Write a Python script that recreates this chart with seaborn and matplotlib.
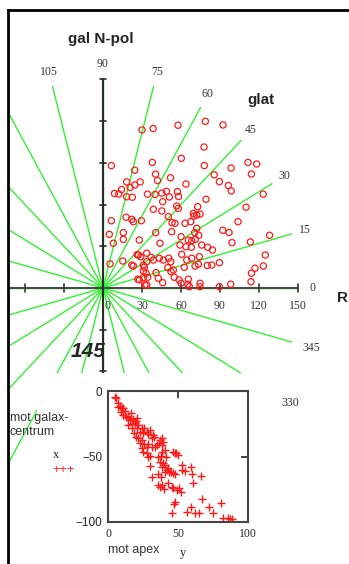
import numpy as np
import matplotlib
matplotlib.use("Agg")
import matplotlib.pyplot as plt
from matplotlib.patches import Rectangle
import seaborn as sns

# polar chart: stars in (R, glat) shown as x = R cos(glat), y = R sin(glat)
gx = [30.0, 38.5, 57.7, 78.7, 92.3, 6.4, 37.9, 60.2, 77.7, 24.4, 40.4, 41.9, 51.9, 63.8, 77.9,
      98.5, 111.5, 118.2, 114.1, 85.5, 89.5, 96.4, 98.6, 123.2, 79.2, 18.2, 20.8, 24.4, 28.6, 8.8,
      12.1, 14.2, 34.2, 40.0, 45.2, 48.8, 51.0, 58.1, 18.1, 22.5, 57.2, 45.9, 56.7, 57.9, 38.7,
      45.2, 72.8, 69.5, 6.4, 17.7, 22.1, 23.3, 29.5, 50.2, 53.1, 55.4, 63.1, 67.5, 72.1, 70.5,
      73.6, 7.9, 4.8, 15.6, 15.6, 27.9, 40.5, 43.8, 52.8, 60.0, 65.6, 59.2, 63.8, 67.9, 33.6,
      26.2, 29.0, 36.9, 38.7, 43.3, 46.4, 50.5, 52.1, 60.5, 64.4, 68.2, 74.1, 5.4, 15.2, 23.3,
      31.8, 33.6, 49.8, 54.1, 62.5, 70.8, 31.0, 33.1, 40.8, 42.5, 52.3, 54.8, 26.7, 31.0, 34.4,
      33.6, 45.9, 58.5, 60.0, 65.6, 65.2, 66.4, 110.0, 70.0, 72.1, 74.6, 103.8, 92.1, 96.9, 128.1,
      68.2, 71.0, 99.2, 113.3, 75.9, 84.2, 80.5, 124.8, 73.3, 80.2, 83.6, 89.5, 123.3, 116.9, 114.2,
      113.8, 74.6, 74.6, 89.5, 98.2, 27.2, 31.0, 27.9, 22.1, 32.3]
gy = [113.7, 114.7, 117.1, 119.9, 117.3, 88.0, 90.3, 93.3, 101.4, 84.7, 81.9, 77.3, 79.3, 74.8, 88.1,
      86.3, 90.3, 89.2, 82.0, 81.4, 76.5, 73.7, 69.8, 67.5, 63.8, 76.3, 72.3, 74.1, 76.3, 68.0,
      67.6, 70.8, 67.5, 67.3, 68.3, 69.5, 65.5, 65.8, 65.6, 65.3, 69.3, 62.1, 59.0, 57.2, 56.6,
      55.4, 58.5, 53.7, 48.4, 50.9, 49.4, 47.7, 48.4, 51.3, 47.0, 46.5, 46.5, 47.7, 42.9, 39.8,
      37.9, 32.2, 38.6, 39.8, 35.0, 34.5, 39.8, 32.2, 40.5, 36.9, 34.5, 30.9, 29.7, 29.3, 25.0,
      24.0, 22.5, 22.1, 20.1, 21.4, 20.1, 21.4, 18.9, 24.2, 20.1, 21.4, 22.5, 17.3, 19.4, 15.8,
      14.9, 18.9, 14.6, 12.9, 14.9, 15.8, 12.2, 10.6, 11.0, 7.0, 11.7, 7.7, 6.3, 7.4, 7.7,
      2.2, 3.8, 5.8, 3.4, 6.3, 2.7, 0.9, 58.1, 51.8, 52.5, 53.2, 47.7, 41.5, 39.9, 37.9,
      34.0, 35.0, 32.6, 33.1, 30.9, 27.3, 29.3, 23.7, 17.1, 16.2, 16.5, 18.2, 15.8, 14.2, 10.6,
      4.5, 3.4, 0.9, 0.9, 2.7, 23.7, 16.5, 5.8, 16.5, 2.2]

# inset: motion towards apex (y) vs motion towards galactic centre (x)
apex = [5.0, 5.5, 7.4, 8.6, 6.9, 9.8, 11.0, 9.3, 12.1, 11.0, 12.6, 14.5, 16.4, 14.0, 15.7, 18.1,
        19.8, 20.5, 14.5, 17.4, 19.3, 21.7, 16.9, 20.5, 24.0, 26.0, 22.9, 25.2, 27.6, 28.8, 30.0,
        32.4, 33.1, 31.2, 18.8, 19.8, 21.7, 24.0, 22.9, 26.0, 27.6, 28.8, 31.2, 33.6, 34.8, 37.1,
        38.3, 39.5, 36.4, 38.8, 24.0, 25.2, 27.6, 28.8, 30.0, 35.5, 37.9, 38.8, 40.7, 41.2, 46.7,
        48.3, 49.8, 47.9, 37.1, 39.5, 38.3, 40.7, 41.9, 43.6, 45.0, 46.7, 47.9, 43.1, 52.6, 53.1,
        55.0, 59.0, 60.2, 66.4, 61.0, 30.0, 35.9, 37.9, 40.7, 31.2, 35.9, 37.1, 38.8, 40.2, 43.1,
        45.5, 46.7, 49.0, 52.1, 50.7, 47.9, 47.1, 45.5, 56.2, 59.3, 62.1, 65.2, 67.4, 72.1, 75.2,
        80.7, 82.4, 85.5, 87.2, 88.3]
galc = [-4.3, -5.6, -9.4, -11.2, -11.9, -13.2, -12.7, -15.8, -15.3, -18.3, -19.6, -18.8, -17.0,
        -20.9, -22.1, -21.4, -22.9, -20.9, -25.9, -25.4, -24.7, -25.9, -28.5, -28.0, -28.0, -28.5,
        -31.0, -32.3, -31.0, -33.1, -29.8, -33.6, -34.9, -36.1, -32.3, -34.9, -36.1, -37.4, -39.9,
        -40.7, -42.5, -40.7, -42.5, -42.5, -41.2, -37.4, -36.1, -38.7, -39.9, -41.2, -43.8, -46.3,
        -47.6, -50.1, -49.4, -50.1, -49.4, -46.3, -45.0, -50.1, -46.3, -47.6, -48.9, -47.6, -53.9,
        -55.2, -57.8, -56.5, -60.3, -61.6, -62.1, -62.9, -63.6, -59.0, -56.5, -60.3, -61.1, -57.8,
        -63.6, -64.6, -70.5, -57.0, -63.6, -65.4, -61.6, -65.4, -71.8, -73.0, -71.8, -74.8, -70.5,
        -73.0, -74.3, -75.6, -76.8, -73.8, -85.0, -86.5, -93.4, -92.6, -88.5, -93.4, -93.4, -82.4,
        -88.5, -93.4, -85.8, -96.7, -97.2, -97.9, -97.7]

spokes = list(range(0, 360, 15))
spoke_labels = [105, 90, 75, 60, 45, 30, 15, 0, 345, 330]
r_ticks = [-60, -30, 30, 60, 90, 120, 150]
r_ticklabels = [0, 30, 60, 90, 120, 150]

sns.set_style("white")
plt.rcParams['font.family'] = ['Liberation Sans', 'DejaVu Sans']
serif = ['Liberation Serif', 'DejaVu Serif']

fig = plt.figure(figsize=(3.49, 5.64), dpi=100)
ax = fig.add_axes([8 / 349, 0, 341 / 349, 554 / 564])
ax.set_xlim(-73.1, 189.2)
ax.set_ylim(-198.6, 200)
ax.set_xticks([])
ax.set_yticks([])
for s in ['right', 'bottom']:
    ax.spines[s].set_visible(False)
for s in ['left', 'top']:
    ax.spines[s].set_color('black')
    ax.spines[s].set_linewidth(2)

# green spokes every 15 degrees
for a in spokes:
    t = np.deg2rad(a)
    ax.plot([0, 150 * np.cos(t)], [0, 150 * np.sin(t)], color='#33f033', lw=1.0, zorder=1)

# axes through the origin
ax.plot([-80, 150], [0, 0], color='#4a4a4a', lw=1.5, zorder=2)
ax.plot([0, 0], [-150, 150], color='#2a2a2a', lw=1.5, zorder=2)
for v in r_ticks:
    ax.plot([v, v], [-3, 3], color='#3a3a3a', lw=1.2, zorder=2)
    ax.plot([-2.4, 2.4], [v, v], color='#2a2a2a', lw=1.2, zorder=2)
for v in r_ticklabels:
    ax.text(v + (3.5 if v == 0 else 0), -13, str(v), ha='center', va='center',
            family=serif, fontsize=8.5, color='#333333', zorder=6)

sns.scatterplot(x=gx, y=gy, ax=ax, marker='o', s=20, facecolor='none',
                edgecolor='#ff1a1a', linewidth=0.9, zorder=4, legend=False)

for a in spoke_labels:
    t = np.deg2rad(a)
    r = 166 if a > 180 else 161
    ax.text(r * np.cos(t), r * np.sin(t), str(a), ha='center', va='center',
            family=serif, fontsize=8.5, color='#333333', zorder=6)

# white region behind the inset
ax.add_patch(Rectangle((-50.8, -198.6), 187, 137.4, facecolor='white',
                       edgecolor='none', zorder=3))

ax.text(-2, 179, 'gal N-pol', ha='center', va='center', fontsize=11, fontweight='bold')
ax.text(121.5, 135, 'glat', ha='center', va='center', fontsize=11, fontweight='bold')
ax.text(184, -7, 'R', ha='center', va='center', fontsize=11, fontweight='bold')
ax.text(-11.5, -46, '145', ha='center', va='center', fontsize=15,
        fontweight='bold', fontstyle='italic', zorder=6)

# inset scatter
axin = fig.add_axes([108 / 349, 42 / 564, 140 / 349, 131 / 564])
sns.scatterplot(x=apex, y=galc, ax=axin, marker='+', s=38, color='#ff1a1a',
                linewidth=1.0, legend=False)
axin.set_xlim(0, 100)
axin.set_ylim(-100, 0)
axin.set_xticks([0, 50, 100])
axin.set_yticks([-100, -50, 0])
axin.tick_params(direction='in', top=True, right=True, length=5, width=1.2,
                 color='#222222', labelsize=8.5, pad=4)
for lab in axin.get_xticklabels():
    lab.set_family(serif)
for s in axin.spines.values():
    s.set_color('#444444')
    s.set_linewidth(1.5)
axin.set_xlabel('')
axin.set_ylabel('')

fig.text(108 / 349, 1 - 550 / 564, 'mot apex', ha='left', va='center', fontsize=9, color='#333333')
fig.text(183 / 349, 1 - 553 / 564, 'y', ha='center', va='center', family=serif, fontsize=9)
fig.text(10 / 349, 1 - 412 / 564, 'mot galax-\ncentrum', ha='left', va='top', fontsize=9,
         color='#333333', linespacing=1.25)
fig.text(56 / 349, 1 - 455 / 564, 'x', ha='center', va='center', family=serif, fontsize=9)
fig.text(63 / 349, 1 - 470 / 564, '+++', ha='center', va='center', fontsize=9, color='#ff1a1a')

fig.savefig('out.png', dpi=100)
